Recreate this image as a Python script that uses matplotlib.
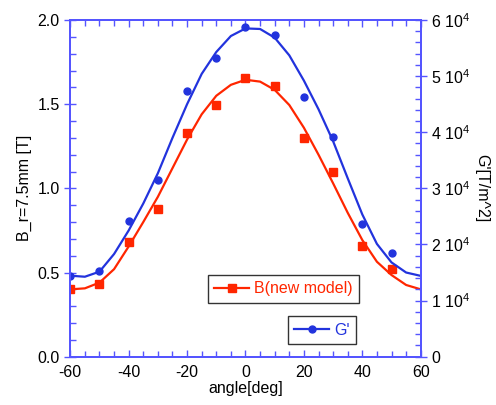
"""Field and gradient vs angle: B (left axis) and G' (right axis)."""

import matplotlib

matplotlib.use("Agg")
import matplotlib.pyplot as plt
from matplotlib.lines import Line2D
from matplotlib.ticker import FuncFormatter, MultipleLocator

plt.rcParams["font.family"] = ["Liberation Sans", "DejaVu Sans"]
plt.rcParams["mathtext.fontset"] = "custom"
plt.rcParams["mathtext.rm"] = "Liberation Sans"
plt.rcParams["mathtext.default"] = "regular"
plt.rcParams["axes.unicode_minus"] = False

# measured points
angles = [-60, -50, -40, -30, -20, -10, 0, 10, 20, 30, 40, 50]
b_new_model = [0.40, 0.43, 0.68, 0.88, 1.33, 1.495, 1.655, 1.61, 1.30, 1.10, 0.66, 0.52]
g_prime = [14400, 15300, 24200, 31400, 47400, 53200, 58800, 57400, 46200, 39200, 23700, 18500]

# fitted curves, read every 5 deg
fit_angles = [-60, -55, -50, -45, -40, -35, -30, -25, -20, -15, -10, -5, 0,
              5, 10, 15, 20, 25, 30, 35, 40, 45, 50, 55, 60]
b_fit = [0.40, 0.406, 0.44, 0.52, 0.655, 0.80, 0.95, 1.12, 1.29, 1.44, 1.55, 1.615, 1.645,
         1.634, 1.585, 1.495, 1.36, 1.20, 1.03, 0.855, 0.693, 0.564, 0.485, 0.426, 0.40]
g_fit = [14430, 14250, 15150, 18300, 22500, 27300, 32700, 39000, 45000, 50400, 54300,
         57150, 58500, 58400, 56850, 53700, 49200, 44100, 38400, 31800, 25350, 20100,
         16800, 15000, 14400]

RED = "#ff2600"
BLUE = "#2233dd"
SPINE = "#5555ff"

fig = plt.figure(figsize=(4.96, 4.05), dpi=100)
ax = fig.add_axes([0.1417, 0.1193, 0.7065, 0.8313])
ax2 = ax.twinx()

ax.plot(fit_angles, b_fit, color=RED, lw=1.6)
ax.plot(angles, b_new_model, ls="none", marker="s", ms=6, color=RED)
ax2.plot(fit_angles, g_fit, color=BLUE, lw=1.6)
ax2.plot(angles, g_prime, ls="none", marker="o", ms=5, color=BLUE)

ax.set_xlim(-60, 60)
ax.set_ylim(0, 2.0)
ax2.set_ylim(0, 60000)

ax.xaxis.set_major_locator(MultipleLocator(20))
ax.xaxis.set_minor_locator(MultipleLocator(5))
ax.yaxis.set_major_locator(MultipleLocator(0.5))
ax.yaxis.set_minor_locator(MultipleLocator(0.1))
ax.yaxis.set_major_formatter(FuncFormatter(lambda v, p: f"{v:.1f}"))
ax2.yaxis.set_major_locator(MultipleLocator(10000))
ax2.yaxis.set_minor_locator(MultipleLocator(2000))
ax2.yaxis.set_major_formatter(
    FuncFormatter(lambda v, p: "0" if v == 0 else f"{int(round(v / 1e4))} 10$^4$"))

for a in (ax, ax2):
    for s in a.spines.values():
        s.set_color(SPINE)
        s.set_linewidth(1.4)

ax.tick_params(axis="x", which="both", direction="in", top=True, color=SPINE,
               labelsize=11.5, pad=6)
ax.tick_params(axis="x", which="major", length=5, width=1)
ax.tick_params(axis="x", which="minor", length=4, width=1)
ax.tick_params(axis="y", which="major", direction="inout", length=8, width=1,
               color=SPINE, labelsize=11.5)
ax.tick_params(axis="y", which="minor", direction="in", length=4, width=1, color=SPINE)
ax2.tick_params(axis="y", which="major", direction="inout", length=8, width=1,
                color=SPINE, labelsize=11.5)
ax2.tick_params(axis="y", which="minor", direction="in", length=4, width=1, color=SPINE)

ax.set_xlabel("angle[deg]", fontsize=11.5, labelpad=1)
ax.set_ylabel("B_r=7.5mm [T]", fontsize=11.5, labelpad=4)
ax2.set_ylabel("G'[T/m^2]", fontsize=11.5, rotation=270, labelpad=14)

red_handle = Line2D([], [], color=RED, lw=1.6, marker="s", ms=6)
blue_handle = Line2D([], [], color=BLUE, lw=1.6, marker="o", ms=5)

leg1 = ax.legend(handles=[red_handle], labels=["B(new model)"],
                 loc="lower right", bbox_to_anchor=(0.824, 0.160), borderaxespad=0,
                 fancybox=False, edgecolor="black", fontsize=11.5, labelcolor=RED,
                 handlelength=2.2, handletextpad=0.3, borderpad=0.4)
leg1.get_frame().set_linewidth(1)
leg2 = ax2.legend(handles=[blue_handle], labels=["G'"],
                  loc="lower right", bbox_to_anchor=(0.815, 0.038), borderaxespad=0,
                  fancybox=False, edgecolor="black", fontsize=11.5, labelcolor=BLUE,
                  handlelength=2.2, handletextpad=0.3, borderpad=0.4)
leg2.get_frame().set_linewidth(1)

fig.savefig("out.png", dpi=100)
